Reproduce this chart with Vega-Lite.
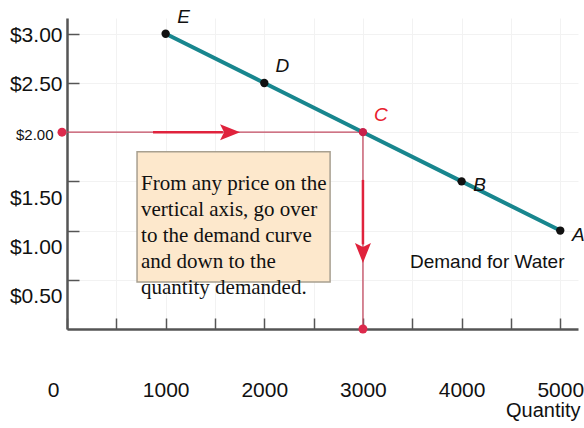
{
  "$schema": "https://vega.github.io/schema/vega-lite/v6.json",
  "width": 511,
  "height": 311,
  "autosize": "none",
  "padding": {"left": 67, "top": 18, "right": 6, "bottom": 99},
  "background": "white",
  "config": {"view": {"stroke": null}},
  "datasets": {
    "demand": [
      {"quantity": 1000, "price": 3.0, "point": "E"},
      {"quantity": 2000, "price": 2.5, "point": "D"},
      {"quantity": 3000, "price": 2.0, "point": "C"},
      {"quantity": 4000, "price": 1.5, "point": "B"},
      {"quantity": 5000, "price": 1.0, "point": "A"}
    ],
    "box": [
      {"quantity": 710, "quantity2": 2667, "price": 1.8, "price2": 0.478, "text": ["From any price on the", "vertical axis, go over", "to the demand curve", "and down to the", "quantity demanded."]}
    ],
    "guides": [
      {"quantity": 0, "quantity2": 3000, "price": 2, "price2": 2},
      {"quantity": 3000, "quantity2": 3000, "price": 2, "price2": 0}
    ],
    "arrows": [
      {"quantity": 872, "quantity2": 1580, "price": 2, "price2": 2},
      {"quantity": 3000, "quantity2": 3000, "price": 1.515, "price2": 0.86}
    ],
    "dots": [
      {"quantity": 0, "price": 2},
      {"quantity": 3000, "price": 0}
    ]
  },
  "layer": [
    {
      "data": {"name": "box"},
      "mark": {"type": "rect", "fill": "#fde8cc", "stroke": "#a8a090", "strokeWidth": 1.5},
      "encoding": {
        "x": {
          "field": "quantity", "type": "quantitative",
          "scale": {"domain": [0, 5180], "nice": false, "zero": false},
          "axis": {
            "values": [0, 500, 1000, 1500, 2000, 2500, 3000, 3500, 4000, 4500, 5000],
            "labelExpr": "datum.value % 1000 == 0 ? format(datum.value, 'd') : ''",
            "labelOffset": {"condition": {"test": "datum.value == 0", "value": -14}, "value": 0},
            "labelFontSize": 21,
            "labelFont": "Liberation Sans",
            "labelColor": "#111",
            "labelBaseline": "middle",
            "labelPadding": 72,
            "labelFlush": false,
            "labelOverlap": false,
            "tickSize": -11,
            "tickColor": "#555",
            "tickWidth": 1.5,
            "domainColor": "#555",
            "domainWidth": 2.5,
            "grid": true,
            "gridColor": "#f2f2f2",
            "title": "Quantity",
            "titleX": 513,
            "titleY": 81,
            "titleAlign": "right",
            "titleBaseline": "middle",
            "titleFontSize": 20,
            "titleFontWeight": "normal",
            "titleFont": "Liberation Sans",
            "titleColor": "#111"
          }
        },
        "x2": {"field": "quantity2"},
        "y": {
          "field": "price", "type": "quantitative",
          "scale": {"domain": [0, 3.16], "nice": false, "zero": false},
          "axis": {
            "values": [0.5, 1, 1.5, 2, 2.5, 3],
            "labelExpr": "'$' + format(datum.value, '.2f')",
            "labelFontSize": {"condition": {"test": "datum.value == 2", "value": 15}, "value": 21},
            "labelOffset": {"condition": {"test": "datum.value < 1.75", "value": 17}, "value": 2},
            "labelFont": "Liberation Sans",
            "labelColor": "#111",
            "labelPadding": {"condition": {"test": "datum.value == 2", "value": 26}, "value": 17},
            "tickSize": -12,
            "tickColor": "#555",
            "tickWidth": 1.5,
            "tickOpacity": {"condition": {"test": "datum.value == 2", "value": 0}, "value": 1},
            "domainColor": "#555",
            "domainWidth": 2.5,
            "grid": true,
            "gridColor": "#f2f2f2",
            "title": null
          }
        },
        "y2": {"field": "price2"}
      }
    },
    {
      "data": {"name": "box"},
      "mark": {"type": "text", "align": "left", "baseline": "top", "font": "Liberation Serif", "fontSize": 21, "lineHeight": 26, "color": "#111", "dx": 4, "dy": 21},
      "encoding": {
        "x": {"field": "quantity", "type": "quantitative"},
        "y": {"field": "price", "type": "quantitative"},
        "text": {"field": "text"}
      }
    },
    {
      "data": {"name": "guides"},
      "mark": {"type": "rule", "color": "#c24a60", "strokeWidth": 1.3},
      "encoding": {
        "x": {"field": "quantity", "type": "quantitative"},
        "x2": {"field": "quantity2"},
        "y": {"field": "price", "type": "quantitative"},
        "y2": {"field": "price2"}
      }
    },
    {
      "data": {"name": "arrows"},
      "mark": {"type": "rule", "color": "#e0223c", "strokeWidth": 2.5},
      "encoding": {
        "x": {"field": "quantity", "type": "quantitative"},
        "x2": {"field": "quantity2"},
        "y": {"field": "price", "type": "quantitative"},
        "y2": {"field": "price2"}
      }
    },
    {
      "data": {"values": [{"quantity": 1653, "price": 2}]},
      "mark": {"type": "point", "filled": true, "color": "#e0223c", "opacity": 1, "size": 400, "shape": "M-1,-0.8L1,0L-1,0.8L-0.6,0Z"},
      "encoding": {
        "x": {"field": "quantity", "type": "quantitative"},
        "y": {"field": "price", "type": "quantitative"}
      }
    },
    {
      "data": {"values": [{"quantity": 3000, "price": 0.773}]},
      "mark": {"type": "point", "filled": true, "color": "#e0223c", "opacity": 1, "size": 400, "shape": "M-0.8,-1L0,1L0.8,-1L0,-0.6Z"},
      "encoding": {
        "x": {"field": "quantity", "type": "quantitative"},
        "y": {"field": "price", "type": "quantitative"}
      }
    },
    {
      "data": {"name": "demand"},
      "mark": {"type": "line", "color": "#18868e", "strokeWidth": 4},
      "encoding": {
        "x": {"field": "quantity", "type": "quantitative"},
        "y": {"field": "price", "type": "quantitative"}
      }
    },
    {
      "data": {"name": "demand"},
      "mark": {"type": "point", "filled": true, "opacity": 1, "size": 70},
      "encoding": {
        "x": {"field": "quantity", "type": "quantitative"},
        "y": {"field": "price", "type": "quantitative"},
        "color": {"condition": {"test": "datum.point == 'C'", "value": "#c8204a"}, "value": "#111"}
      }
    },
    {
      "data": {"name": "dots"},
      "mark": {"type": "point", "filled": true, "opacity": 1, "size": 80, "color": "#dc2a4c", "xOffset": -5},
      "encoding": {
        "x": {"field": "quantity", "type": "quantitative"},
        "y": {"field": "price", "type": "quantitative"}
      },
      "transform": [{"filter": "datum.quantity == 0"}]
    },
    {
      "data": {"name": "dots"},
      "mark": {"type": "point", "filled": true, "opacity": 1, "size": 80, "color": "#dc2a4c"},
      "encoding": {
        "x": {"field": "quantity", "type": "quantitative"},
        "y": {"field": "price", "type": "quantitative"}
      },
      "transform": [{"filter": "datum.quantity > 0"}]
    },
    {
      "data": {"name": "demand"},
      "transform": [{"filter": "datum.price >= 2"}],
      "mark": {"type": "text", "align": "center", "baseline": "middle", "font": "Liberation Sans", "fontStyle": "italic", "fontSize": 19, "dx": 18, "dy": -17},
      "encoding": {
        "x": {"field": "quantity", "type": "quantitative"},
        "y": {"field": "price", "type": "quantitative"},
        "text": {"field": "point"},
        "color": {"condition": {"test": "datum.point == 'C'", "value": "#e8202c"}, "value": "#111"}
      }
    },
    {
      "data": {"name": "demand"},
      "transform": [{"filter": "datum.price < 2"}],
      "mark": {"type": "text", "align": "center", "baseline": "middle", "font": "Liberation Sans", "fontStyle": "italic", "fontSize": 19, "dx": 18, "dy": 4, "color": "#111"},
      "encoding": {
        "x": {"field": "quantity", "type": "quantitative"},
        "y": {"field": "price", "type": "quantitative"},
        "text": {"field": "point"}
      }
    },
    {
      "data": {"values": [{"quantity": 4260, "price": 0.681, "label": "Demand for Water"}]},
      "mark": {"type": "text", "align": "center", "baseline": "middle", "font": "Liberation Sans", "fontSize": 19, "color": "#111"},
      "encoding": {
        "x": {"field": "quantity", "type": "quantitative"},
        "y": {"field": "price", "type": "quantitative"},
        "text": {"field": "label"}
      }
    }
  ]
}
